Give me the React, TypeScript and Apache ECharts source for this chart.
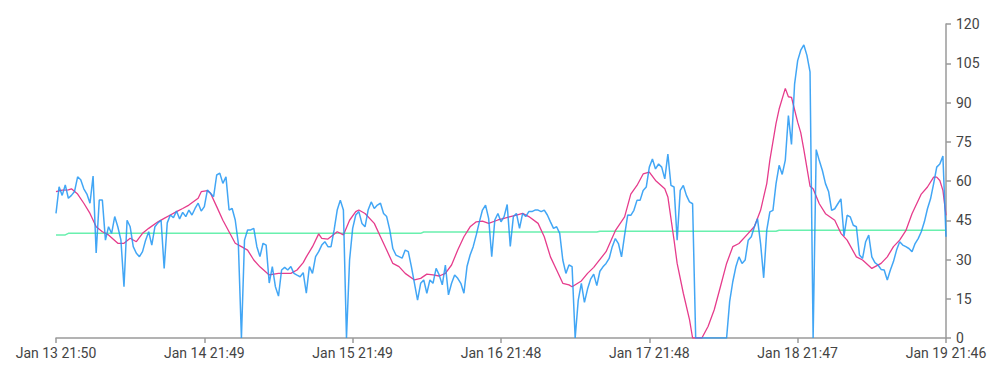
import React, { useEffect, useRef } from "react";
import * as echarts from "echarts";

const TICK_LABELS = [
  "Jan 13 21:50",
  "Jan 14 21:49",
  "Jan 15 21:49",
  "Jan 16 21:48",
  "Jan 17 21:48",
  "Jan 18 21:47",
  "Jan 19 21:46",
];
const POINTS_PER_TICK = 48;

const BLUE = [
  47.6, 57.8, 54.5, 58.5, 53.4, 54.5, 56, 61.6, 60.5, 57,
  55, 51.5, 61.9, 32.5, 52.7, 52.7, 37.4, 42.5, 40, 46.4,
  42.5, 37.5, 19.6, 45, 42.5, 34.9, 32.4, 31.1, 33, 37.4,
  40.6, 35.5, 42.5, 44, 45, 26.6, 44, 47, 46, 48.5,
  45.5, 48, 46.4, 48.9, 47, 49.5, 51.5, 48.5, 50.2, 56.6,
  55.3, 54, 62.3, 63, 59.1, 61.6, 48.9, 49.5, 45.1, 36.2,
  0, 37.4, 41.3, 41.3, 41.9, 34.9, 31.1, 36.2, 35.5, 21,
  27.3, 19.6, 16, 26, 27, 26, 27.3, 24.7, 24, 23.4,
  25, 17.1, 27.3, 24.7, 31.1, 33, 35.5, 36.8, 34.9, 34.9,
  41.3, 48.9, 52.7, 48.9, 0, 29.8, 41.9, 47, 48.3, 43.8,
  42.5, 48.9, 52, 49.5, 50.8, 51.5, 47.6, 46.4, 41.3, 34.2,
  31.7, 31.1, 30.5, 33.6, 33, 27.3, 20.9, 14.5, 20.9, 22.2,
  17.1, 22.2, 20.9, 26.6, 24.1, 20.3, 27.9, 16.5, 20.9, 24.1,
  22.8, 20.9, 17.1, 27.3, 31.7, 34.9, 39.4, 44.4, 48.9, 50.8,
  45.7, 31.1, 45.1, 47.6, 44.4, 46.4, 51, 35, 46.4, 47.6,
  41.9, 47.6, 46.4, 48.3, 48.3, 48.9, 48.9, 48.3, 48.9, 47,
  44.4, 41.9, 42.5, 40, 29.8, 24.7, 27.9, 27.3, 0, 14.5,
  20.9, 13.6, 18.7, 22.5, 24.4, 20, 25.5, 27.2, 28.5, 30.4,
  34.9, 38, 36.1, 31, 39.3, 47, 46.9, 48.8, 52.6, 52.6,
  56.4, 57.7, 65.3, 68.4, 64.6, 66.5, 65.3, 60.8, 70.3, 58.3,
  57.7, 37.4, 56.4, 58.3, 54.5, 52, 51.3, 0, 0, 0,
  0, 0, 0, 0, 0, 0, 0, 0, 14, 21.5,
  27.2, 31, 28.5, 29.8, 37.4, 38.7, 42.5, 45.6, 36.1, 23,
  41.2, 48.2, 48.8, 59, 66, 62.5, 68, 85, 74, 97,
  106, 110, 112, 108, 101.7, 0, 72, 67.8, 64, 59,
  56, 48.8, 49.4, 51.3, 53.2, 39, 46.9, 46.3, 43.1, 42.5,
  31.7, 30.4, 36.8, 39.3, 31, 28.8, 27.9, 26.2, 26, 22.2,
  26, 29.2, 33.6, 36.8, 35.5, 34.9, 34.2, 33, 36.1, 38,
  40.6, 44.4, 49.4, 53.2, 59, 65.3, 66.5, 69.5, 38.7,
];

// [point index, value]
const PINK: [number, number][] = [
  [0, 55.9], [2, 56.5], [4, 56.6], [5, 57], [7, 55], [9, 51.5], [11, 47.6], [13, 42.5],
  [15, 40.6], [17, 39.4], [20, 36.2], [22, 36.2], [24, 38.1], [26, 36.8], [28, 40],
  [30, 41.9], [33, 44.4], [35, 45.7], [37, 47], [39, 48.3], [41, 49.5], [43, 50.8],
  [46, 53.4], [47, 55.9], [49, 56.3], [50, 55.3], [52, 50.2], [54, 45], [56, 40.6],
  [58, 36.2], [60, 34.9], [62, 33.6], [64, 29.8], [66, 27.2], [69, 24.1], [72, 24.7],
  [76, 24.7], [78, 26], [80, 28.8], [81, 31], [83, 34.9], [85, 39.8], [86, 38.1],
  [88, 37.8], [91, 40.6], [93, 39.4], [95, 45], [97, 48.3], [98, 48.9], [100, 47.6],
  [103, 43.8], [105, 38.7], [107, 33.6], [109, 28.5], [111, 27.3], [113, 24.7],
  [116, 22.2], [118, 22.8], [120, 24.4], [122, 24.1], [124, 23.7], [126, 24.7],
  [128, 27.9], [130, 33.6], [132, 38.7], [134, 42.5], [136, 44.4], [138, 44.7],
  [140, 43.8], [143, 45.1], [145, 45.7], [147, 46.4], [149, 47], [151, 47.6],
  [153, 46.4], [156, 43.8], [158, 38.7], [160, 31], [162, 26], [164, 20.9],
  [166, 20.3], [167, 19.6], [170, 21.8], [172, 24.7], [174, 27], [175, 28.5],
  [178, 33], [181, 41], [184, 46.3], [186, 55], [188, 58.3], [190, 62.7], [192, 63.4],
  [194, 60.2], [197, 57], [198, 53.9], [200, 37.4], [201, 28.5], [203, 17.1],
  [205, 7], [206, 0], [209, 0], [211, 4.4], [213, 10.8], [215, 19.6], [217, 28.5],
  [219, 34.9], [221, 36.1], [224, 40], [226, 42.6], [228, 48.8], [230, 59],
  [231, 68], [233, 82], [234, 87.5], [236, 95.4], [237, 92.2], [238, 92], [240, 82.5],
  [241, 78.5], [242, 72], [243, 65], [244, 58], [245, 57], [247, 51.3], [249, 47.5],
  [252, 45], [254, 40], [256, 37.4], [259, 31], [261, 29.8], [264, 26.6],
  [267, 28.5], [269, 31], [271, 34.9], [273, 37.4], [275, 41], [277, 47.5],
  [280, 55], [282, 57.7], [284, 61.5], [285, 61.5], [286, 60.2], [287, 56.4],
  [288, 46.9],
];

const GREEN: [number, number][] = [
  [0, 39.4], [3, 39.4], [4, 40], [118, 40], [119, 40.5], [175, 40.5],
  [176, 40.8], [233, 40.8], [234, 41.2], [288, 41.2],
];

const MONTHS = ["Jan", "Feb", "Mar", "Apr", "May", "Jun", "Jul", "Aug", "Sep", "Oct", "Nov", "Dec"];

function buildCategories(): string[] {
  const start = new Date(2000, 0, 13, 21, 50).getTime();
  const spanMin = 6 * 1440 - 4;
  const stepMs = (spanMin / (BLUE.length - 1)) * 60000;
  return BLUE.map((_, i) => {
    if (i % POINTS_PER_TICK === 0) return TICK_LABELS[i / POINTS_PER_TICK];
    const d = new Date(start + i * stepMs);
    const hh = String(d.getHours()).padStart(2, "0");
    const mm = String(d.getMinutes()).padStart(2, "0");
    return `${MONTHS[d.getMonth()]} ${d.getDate()} ${hh}:${mm}`;
  });
}

const AXIS_COLOR = "#9a9a9a";
const TEXT_COLOR = "#444";
const FONT = "Roboto";

export default function App() {
  const ref = useRef<HTMLDivElement>(null);
  useEffect(() => {
    if (!ref.current) return;
    const chart = echarts.init(ref.current, undefined, { renderer: "svg" });
    chart.setOption({
      animation: false,
      grid: { left: 48, right: 46, top: 16, bottom: 30, containLabel: false, outerBoundsMode: "none" },
      xAxis: {
        type: "category",
        data: buildCategories(),
        boundaryGap: false,
        axisLine: { show: true, lineStyle: { color: AXIS_COLOR, width: 1.5 } },
        axisTick: { show: true, interval: POINTS_PER_TICK - 1, length: 5, lineStyle: { color: AXIS_COLOR, width: 1.5 } },
        axisLabel: { interval: POINTS_PER_TICK - 1, color: TEXT_COLOR, fontSize: 14, fontFamily: FONT, margin: 8 },
        splitLine: { show: false },
      },
      yAxis: {
        type: "value",
        position: "right",
        min: 0,
        max: 120,
        interval: 15,
        axisLine: { show: true, lineStyle: { color: AXIS_COLOR, width: 1.5 } },
        axisTick: { show: true, length: 5, lineStyle: { color: AXIS_COLOR, width: 1.5 } },
        axisLabel: { color: TEXT_COLOR, fontSize: 14, fontFamily: FONT, margin: 10 },
        splitLine: { show: false },
      },
      series: [
        {
          type: "line",
          data: GREEN,
          showSymbol: false,
          symbol: "none",
          lineStyle: { color: "#69F0AE", width: 1.5 },
          z: 1,
        },
        {
          type: "line",
          data: PINK,
          showSymbol: false,
          symbol: "none",
          lineStyle: { color: "#E63C8C", width: 1.3 },
          z: 2,
        },
        {
          type: "line",
          data: BLUE,
          showSymbol: false,
          symbol: "none",
          lineStyle: { color: "#2196F3", width: 1.5, opacity: 0.85 },
          z: 3,
        },
      ],
    });
    return () => chart.dispose();
  }, []);
  return <div ref={ref} style={{ width: 984, height: 360 }} />;
}
